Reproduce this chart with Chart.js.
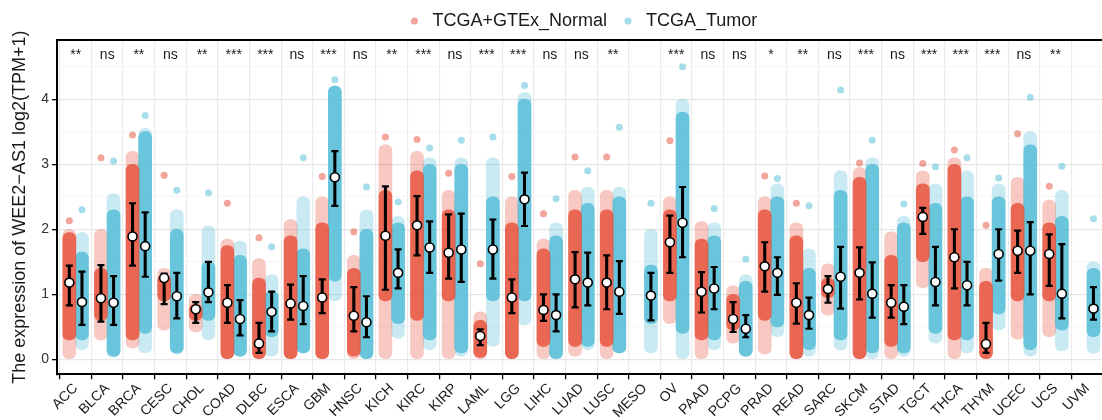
<!DOCTYPE html>
<html>
<head>
<meta charset="utf-8">
<script src="https://cdn.jsdelivr.net/npm/chart.js@4.4.1/dist/chart.umd.min.js"></script>
<style>
  html, body { margin: 0; padding: 0; background: #fff; overflow: hidden; }
  #wrap { position: relative; width: 1112px; height: 420px; }
</style>
</head>
<body>
<div id="wrap"><canvas id="chart"></canvas></div>
<script>
// categories + significance labels
const categories = ['ACC','BLCA','BRCA','CESC','CHOL','COAD','DLBC','ESCA','GBM','HNSC','KICH','KIRC','KIRP','LAML','LGG','LIHC','LUAD','LUSC','MESO','OV','PAAD','PCPG','PRAD','READ','SARC','SKCM','STAD','TGCT','THCA','THYM','UCEC','UCS','UVM'];
const sigLabels = ['**','ns','**','ns','**','***','***','ns','***','ns','**','***','ns','***','***','ns','ns','**','','***','ns','ns','*','**','ns','***','ns','***','***','***','ns','**',''];
const yTickValues = [0, 0.5, 1, 1.5, 2, 2.5, 3, 3.5, 4, 4.5];

// TCGA+GTEx_Normal: mean with error bar, and the spread of the point cloud
const normalMean     = [1.18,0.94,1.89,1.25,0.77,0.87,0.245,0.86,0.95,0.67,1.90,2.06,1.64,0.36,0.95,0.76,1.23,1.18,null,1.80,1.04,0.62,1.43,0.87,1.08,1.33,0.87,2.19,1.57,0.235,1.67,1.62,null];
const normalSdLow    = [0.83,0.58,1.44,0.85,0.56,0.56,0.10,0.61,0.71,0.43,1.07,1.60,1.24,0.22,0.71,0.59,0.80,0.77,null,1.33,0.72,0.42,1.04,0.55,0.87,0.92,0.64,1.93,1.09,0.10,1.33,1.13,null];
const normalSdHigh   = [1.44,1.45,2.40,1.32,0.88,1.14,0.56,1.15,1.23,1.11,2.66,2.51,2.23,0.46,1.23,1.00,1.65,1.60,null,2.21,1.34,0.88,1.80,1.17,1.28,1.72,1.14,2.33,2.00,0.56,1.98,1.92,null];
const normalLow      = [0,0.30,0.17,0.45,0.42,0,0,0,0,0,0,0,0,0,0,0,0.05,0,null,0.55,0,0.25,0.08,0,0.68,0,0,1.10,0,0,0.31,0.35,null];
const normalCoreLow  = [0.30,0.60,0.30,0.90,0.60,0,0,0,0,0.05,0.90,0.60,0.90,0.03,0,0.20,0.20,0.20,null,0.90,0.30,0.45,0.60,0,0.95,0,0.20,1.50,0.30,0,0.90,0.90,null];
const normalCoreHigh = [1.95,1.40,3.00,1.30,0.85,1.75,1.25,1.90,2.10,1.40,2.60,2.90,2.30,0.60,2.10,1.70,2.30,2.30,null,2.30,1.85,1.00,2.30,1.90,1.25,2.80,1.60,2.70,3.00,1.20,2.40,2.10,null];
const normalHigh     = [2.00,2.00,3.20,1.40,1.00,1.85,1.55,2.15,2.50,1.60,3.30,3.20,2.60,0.73,2.50,1.85,2.60,2.60,null,2.50,2.12,1.13,2.50,2.10,1.47,2.95,1.96,2.90,3.10,1.40,2.80,2.45,null];
const normalTop      = [2.13,3.10,3.45,2.83,null,2.40,1.87,null,2.81,1.96,3.42,3.38,2.86,1.47,2.81,2.24,3.11,3.11,null,3.36,null,null,2.82,2.40,null,3.02,null,3.01,3.22,2.06,3.47,2.66,null];

// TCGA_Tumor
const tumorMean     = [0.88,0.87,1.74,0.97,1.03,0.62,0.73,0.82,2.80,0.57,1.33,1.72,1.69,1.69,2.46,0.68,1.18,1.04,0.98,2.10,1.09,0.47,1.33,0.68,1.27,1.01,0.81,1.19,1.14,1.62,1.67,1.01,0.78];
const tumorSdLow    = [0.53,0.53,1.27,0.63,0.88,0.37,0.43,0.54,2.36,0.34,1.09,1.33,1.19,1.24,2.05,0.43,0.83,0.70,0.60,1.57,0.77,0.34,0.99,0.47,0.78,0.64,0.54,0.83,0.83,1.21,1.00,0.63,0.61];
const tumorSdHigh   = [1.35,1.28,2.26,1.33,1.50,0.91,1.04,1.28,3.20,0.97,1.69,2.12,2.24,2.15,2.87,1.00,1.64,1.51,1.33,2.65,1.42,0.68,1.57,0.95,1.73,1.49,1.14,1.73,1.50,2.00,2.11,1.77,1.11];
const tumorLow      = [0.15,0.03,0.10,0.08,0.30,0.05,0.05,0.10,0.90,0,0.32,0.15,0.05,0.20,0.53,0,0.15,0.10,0.10,0,0.15,0.05,0.35,0.05,0.14,0,0.05,0.25,0.10,0.45,0.05,0.13,0.09];
const tumorCoreLow  = [0.30,0.05,0.40,0.10,0.60,0.05,0.35,0.10,1.20,0,0.55,0.30,0.10,0.90,0.90,0,0.20,0.10,0.55,0.40,0.30,0.05,0.50,0.15,0.30,0.10,0.10,0.40,0.30,0.70,0.15,0.45,0.35];
const tumorCoreHigh = [1.65,2.30,3.50,2.00,1.50,1.60,1.05,1.70,4.20,2.00,2.10,3.00,3.00,2.50,4.00,1.90,2.40,2.50,1.45,3.80,1.90,1.20,2.50,1.40,2.60,3.00,2.10,2.40,2.50,2.50,3.30,2.20,1.40];
const tumorHigh     = [1.95,2.55,3.55,2.30,2.05,1.82,1.30,2.50,4.20,2.30,2.20,3.10,3.10,3.10,4.10,2.10,2.65,2.65,2.00,4.00,2.10,1.30,2.70,1.70,2.90,3.10,2.20,2.70,2.90,2.70,3.50,2.60,1.50];
const tumorTop      = [2.30,3.05,3.75,2.60,2.56,null,1.73,3.10,4.30,2.65,2.42,3.25,3.37,3.42,4.21,2.47,2.90,3.57,2.40,4.50,2.32,1.54,2.78,2.36,4.14,3.37,2.39,2.96,3.10,2.79,4.03,2.97,2.16];

const RED = '230,75,53';
const BLUE = '77,187,213';
const DODGE = 0.2;

Chart.defaults.font.family = '"Liberation Sans", Arial, Helvetica, sans-serif';
Chart.defaults.color = '#1a1a1a';

// helpers to turn arrays into {x, y} points, skipping missing groups
const xOf = (i, side) => i + 1 + side * DODGE;
const ranges = (lo, hi, side) => lo.map((v, i) => v === null ? null : { x: xOf(i, side), y: [v, hi[i]] }).filter(Boolean);
const points = (vals, side) => vals.map((v, i) => v === null ? null : { x: xOf(i, side), y: v }).filter(Boolean);

const errLines = ranges(normalSdLow, normalSdHigh, -1).concat(ranges(tumorSdLow, tumorSdHigh, 1));
const errCaps = points(normalSdLow, -1).concat(points(normalSdHigh, -1), points(tumorSdLow, 1), points(tumorSdHigh, 1));
const means = points(normalMean, -1).concat(points(tumorMean, 1));

const cloudBar = (label, data, rgb, alpha, order) => ({
  type: 'bar', label, data, order,
  backgroundColor: `rgba(${rgb},${alpha})`,
  barThickness: 13, borderRadius: 6, borderSkipped: false, grouped: false,
});

const sigPlugin = {
  id: 'sigLabels',
  afterDatasetsDraw(chart) {
    const { ctx, scales: { x, y }, chartArea } = chart;
    ctx.save();
    ctx.font = '14px "Liberation Sans", Arial, sans-serif';
    ctx.fillStyle = '#1a1a1a';
    ctx.textAlign = 'center';
    ctx.textBaseline = 'alphabetic';
    sigLabels.forEach((s, i) => {
      if (s) ctx.fillText(s, x.getPixelForValue(i + 1), y.getPixelForValue(4.62));
    });
    // top edge of the panel
    ctx.strokeStyle = '#000';
    ctx.lineWidth = 2;
    ctx.beginPath();
    ctx.moveTo(chartArea.left, chartArea.top);
    ctx.lineTo(chartArea.right, chartArea.top);
    ctx.lineTo(chartArea.right, chartArea.bottom);
    ctx.stroke();
    ctx.restore();
  }
};

new Chart(document.getElementById('chart'), {
  type: 'bar',
  data: {
    datasets: [
      { type: 'scatter', label: 'TCGA+GTEx_Normal', data: points(normalTop, -1), order: 3,
        backgroundColor: `rgba(${RED},0.5)`, borderWidth: 0, pointRadius: 3.5, pointStyle: 'circle' },
      { type: 'scatter', label: 'TCGA_Tumor', data: points(tumorTop, 1), order: 3,
        backgroundColor: `rgba(${BLUE},0.5)`, borderWidth: 0, pointRadius: 3.5, pointStyle: 'circle' },
      cloudBar('normalBody', ranges(normalLow, normalHigh, -1), RED, 0.3, 5),
      cloudBar('normalCore', ranges(normalCoreLow, normalCoreHigh, -1), RED, 0.78, 4),
      cloudBar('tumorBody', ranges(tumorLow, tumorHigh, 1), BLUE, 0.3, 5),
      cloudBar('tumorCore', ranges(tumorCoreLow, tumorCoreHigh, 1), BLUE, 0.78, 4),
      { type: 'bar', label: 'sd', data: errLines, order: 2, backgroundColor: '#000',
        barThickness: 2.4, grouped: false },
      { type: 'scatter', label: 'caps', data: errCaps, order: 1, pointStyle: 'line',
        pointRadius: 3.5, borderColor: '#000', borderWidth: 2.2 },
      { type: 'scatter', label: 'mean', data: means, order: 0, pointStyle: 'circle',
        pointRadius: 4.5, backgroundColor: '#fff', borderColor: '#000', borderWidth: 1.6 },
    ]
  },
  options: {
    responsive: true,
    maintainAspectRatio: false,
    animation: false,
    layout: { padding: { left: 0, right: 1, top: 0, bottom: 0 } },
    plugins: {
      tooltip: { enabled: false },
      legend: {
        position: 'top',
        fullSize: false,
        labels: {
          usePointStyle: true, boxWidth: 18, boxHeight: 5, padding: 12,
          font: { size: 18 }, color: '#1a1a1a',
          filter: item => item.text === 'TCGA+GTEx_Normal' || item.text === 'TCGA_Tumor'
        }
      }
    },
    scales: {
      x: {
        type: 'linear', min: 0.41, max: 33.59, offset: false,
        afterBuildTicks: s => { s.ticks = categories.map((_, i) => ({ value: i + 1 })); },
        afterFit: s => { s.height = 45.7; },
        grid: { color: '#ebebeb', lineWidth: 1.2, tickColor: '#000', tickLength: 5, tickWidth: 1.3 },
        border: { color: '#000', width: 2 },
        ticks: {
          autoSkip: false, minRotation: 45, maxRotation: 45, padding: 1,
          font: { size: 14 }, color: '#1a1a1a',
          callback: v => categories[v - 1]
        }
      },
      y: {
        type: 'linear', min: -0.23, max: 4.91,
        afterBuildTicks: s => { s.ticks = yTickValues.map(v => ({ value: v })); },
        afterFit: s => { s.width = 57; },
        grid: {
          color: c => c.tick && c.tick.value % 1 === 0 ? '#e6e6e6' : '#f2f2f2',
          lineWidth: c => c.tick && c.tick.value % 1 === 0 ? 1.3 : 0.8,
          tickColor: c => c.tick && c.tick.value % 1 === 0 ? '#000' : 'rgba(0,0,0,0)',
          tickLength: 5, tickWidth: 1.3
        },
        border: { color: '#000', width: 2 },
        ticks: {
          padding: 3, font: { size: 14 }, color: '#333',
          callback: v => v % 1 === 0 ? String(v) : ''
        },
        title: {
          display: true, text: 'The expression of WEE2\u2212AS1 log2(TPM+1)',
          font: { size: 18 }, color: '#1a1a1a', padding: { top: 9, bottom: 0 }
        }
      }
    }
  },
  plugins: [sigPlugin]
});
</script>
</body>
</html>
